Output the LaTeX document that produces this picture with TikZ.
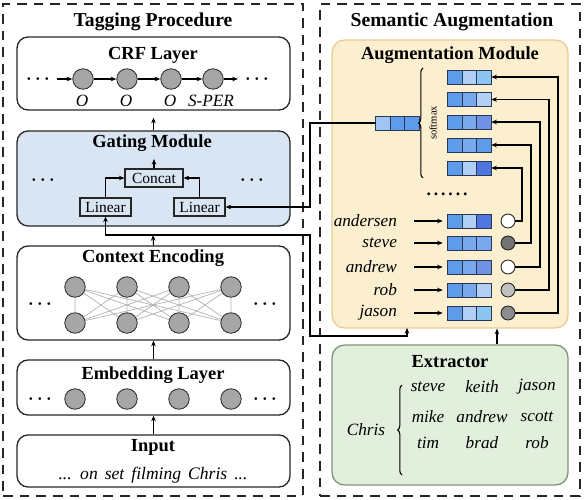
\documentclass[tikz,border=0pt]{standalone}
\usepackage{fontspec}
\setmainfont{Liberation Serif}
\usepackage{tikz}
\usetikzlibrary{arrows.meta,positioning,decorations.pathreplacing,calc}
\definecolor{gatefill}{RGB}{218,229,243}
\definecolor{augfill}{RGB}{252,239,208}
\definecolor{augline}{RGB}{233,205,148}
\definecolor{extfill}{RGB}{226,239,221}
\definecolor{extline}{RGB}{125,150,120}
\definecolor{unitgray}{RGB}{166,166,166}
\definecolor{vmid}{RGB}{94,155,232}
\definecolor{vlight}{RGB}{178,208,245}
\definecolor{vcyan}{RGB}{140,198,240}
\definecolor{vdeep}{RGB}{78,118,222}
\definecolor{vsoft}{RGB}{122,168,236}
\definecolor{vline}{RGB}{40,55,85}

% one embedding vector = three cells side by side
\newcommand{\embvec}[5]{%
  \node[cell,fill=#3] (#1a) at #2 {};
  \node[cell,fill=#4,right=0pt of #1a] (#1b) {};
  \node[cell,fill=#5,right=0pt of #1b] (#1c) {};
}

\begin{document}
\begin{tikzpicture}[x=0.02cm,y=-0.02cm,
  panel/.style={draw=black!85,line width=0.8pt,dash pattern=on 5.5pt off 4pt,inner sep=0pt},
  layer/.style={draw=black!85,line width=0.75pt,rounded corners=0.22cm,inner sep=0pt},
  ttl/.style={font=\fontsize{11.2}{13}\selectfont\bfseries},
  sub/.style={font=\fontsize{10.5}{12}\selectfont\bfseries},
  unit/.style={circle,draw=black!80,fill=unitgray,line width=0.5pt,minimum size=0.41cm,inner sep=0pt},
  tag/.style={font=\fontsize{9.8}{11}\selectfont\itshape,inner sep=1pt},
  dots/.style={font=\fontsize{10}{12}\selectfont\boldmath,inner sep=1pt},
  op/.style={draw=black!85,line width=0.6pt,font=\fontsize{8.8}{10}\selectfont,inner sep=1.5pt,minimum height=0.36cm},
  cell/.style={draw=vline,line width=0.5pt,minimum width=0.29cm,minimum height=0.28cm,inner sep=0pt,outer sep=0pt},
  knob/.style={circle,draw=black!85,line width=0.5pt,minimum size=0.28cm,inner sep=0pt},
  word/.style={font=\fontsize{9.8}{11}\selectfont\itshape,anchor=east,inner sep=1pt},
  arr/.style={-{Stealth[length=3.2pt,width=2.6pt]},line width=0.6pt},
  mesh/.style={gray!60,line width=0.4pt},
  brc/.style={decorate,decoration={brace,amplitude=2.5pt},line width=0.6pt}
]
\useasboundingbox (0,0) rectangle (585,500);

% panels
\node[panel,minimum width=6cm,minimum height=9.84cm] (left) at (153,250) {};
\node[panel,minimum width=5.2cm,minimum height=9.84cm] (right) at (450,250) {};
\node[ttl] (lt) at (153,22) {Tagging Procedure};
\node[ttl] (rt) at (452,22) {Semantic Augmentation};

% ---- tagging procedure ----
\node[layer,minimum width=5.46cm,minimum height=1.46cm] (crf) at (153.5,73.5) {};
\node[sub] (crft) at (153,55) {CRF Layer};
\node[unit] (c1) at (83,79) {};
\node[unit] (c2) at (127,79) {};
\node[unit] (c3) at (171,79) {};
\node[unit] (c4) at (213,79) {};
\node[dots] (cdl) at (38,79) {$\cdots$};
\node[dots] (cdr) at (257,79) {$\cdots$};
\draw[arr,shorten <=3pt] (cdl) -- (c1);
\draw[arr] (c1) -- (c2); \draw[arr] (c2) -- (c3);
\draw[arr] (c3) -- (c4); \draw[arr,shorten >=3pt] (c4) -- (cdr);
\node[tag] (l1) at (82,101) {O};
\node[tag] (l2) at (126,101) {O};
\node[tag] (l3) at (170,101) {O};
\node[tag] (l4) at (211,101) {S-PER};

\node[layer,fill=gatefill,minimum width=5.46cm,minimum height=1.9cm] (gate) at (153.5,178.5) {};
\node[sub] (gatet) at (152,143) {Gating Module};
\node[op,minimum width=1.16cm] (concat) at (154,178) {Concat};
\node[op,minimum width=1.02cm] (linL) at (105.5,207) {Linear};
\node[op,minimum width=1.02cm] (linR) at (199.5,207) {Linear};
\node[dots] (gdl) at (43,180) {$\cdots$};
\node[dots] (gdr) at (252,180) {$\cdots$};
\coordinate (gout) at (154,159);
\draw[arr] (concat.north) -- (gout);
\draw[arr] (linL.north) |- (concat.west);
\draw[arr] (linR.north) |- (concat.east);
\draw[arr,shorten >=4pt] (gate.north) -- (crf.south);

\node[layer,minimum width=5.46cm,minimum height=1.88cm] (ctx) at (153.5,293) {};
\node[sub] (ctxt) at (153,258) {Context Encoding};
\node[unit] (u1) at (75,287) {};
\node[unit] (u2) at (127,287) {};
\node[unit] (u3) at (179,287) {};
\node[unit] (u4) at (231,287) {};
\node[unit] (d1) at (75,323) {};
\node[unit] (d2) at (127,323) {};
\node[unit] (d3) at (179,323) {};
\node[unit] (d4) at (231,323) {};
\draw[mesh] (u1)--(d1) (u1)--(d2) (u1)--(d3) (u1)--(d4);
\draw[mesh] (u2)--(d1) (u2)--(d2) (u2)--(d3) (u2)--(d4);
\draw[mesh] (u3)--(d1) (u3)--(d2) (u3)--(d3) (u3)--(d4);
\draw[mesh] (u4)--(d1) (u4)--(d2) (u4)--(d3) (u4)--(d4);
\node[dots] (xdl) at (40,304) {$\cdots$};
\node[dots] (xdr) at (265,304) {$\cdots$};

\node[layer,minimum width=5.46cm,minimum height=1.1cm] (emb) at (153.5,387.5) {};
\node[sub] (embt) at (153,375) {Embedding Layer};
\node[unit] (e1) at (75,399) {};
\node[unit] (e2) at (127,399) {};
\node[unit] (e3) at (179,399) {};
\node[unit] (e4) at (231,399) {};
\node[dots] (edl) at (40,399) {$\cdots$};
\node[dots] (edr) at (265,399) {$\cdots$};

\node[layer,minimum width=5.46cm,minimum height=1.04cm] (inp) at (153.5,461) {};
\node[sub] (inpt) at (153,447) {Input};
\node[tag,font=\fontsize{10}{12}\selectfont\itshape] (sent) at (153,475) {\spaceskip=4pt plus 1pt\relax ... on set filming Chris ...};

\draw[arr] (inp.north) -- (emb.south);
\draw[arr] (emb.north) -- (ctx.south);

% ---- semantic augmentation ----
\node[layer,draw=augline,fill=augfill,rounded corners=0.25cm,minimum width=4.72cm,minimum height=5.76cm] (aug) at (450,184) {};
\node[sub] (augt) at (450,55) {Augmentation Module};

\embvec{t1}{(455,77)}{vmid}{vlight}{vcyan}
\embvec{t2}{(455,99.5)}{vmid}{vsoft}{vlight}
\embvec{t3}{(455,122)}{vmid}{vsoft}{vdeep!80}
\embvec{t4}{(455,145)}{vmid}{vsoft}{vmid}
\embvec{t5}{(455,168)}{vmid}{vlight}{vdeep}
\embvec{sm}{(383,123)}{vlight!80!vmid}{vmid}{vmid}
\draw[brc] (423,178) -- (423,68);
\node[font=\fontsize{6}{7}\selectfont,rotate=90] (smx) at (433,123) {softmax};
\node[dots] (mid) at (447,194) {\textbf{.\,.\,.\,.\,.\,.}};

\embvec{b1}{(455,221)}{vmid}{vlight}{vdeep}
\embvec{b2}{(455,243)}{vmid}{vsoft}{vsoft}
\embvec{b3}{(455,267)}{vmid}{vsoft}{vdeep!80}
\embvec{b4}{(455,290)}{vmid}{vsoft}{vlight}
\embvec{b5}{(455,313)}{vmid}{vlight}{vcyan}

\node[word] (w1) at (399,221) {andersen};
\node[word] (w2) at (399,243) {steve};
\node[word] (w3) at (399,267) {andrew};
\node[word] (w4) at (399,290) {rob};
\node[word] (w5) at (399,313) {jason};
\draw[arr,shorten <=0.3cm,shorten >=0.1cm] (w1.east) -- (b1a.west);
\draw[arr,shorten <=0.3cm,shorten >=0.1cm] (w2.east) -- (b2a.west);
\draw[arr,shorten <=0.3cm,shorten >=0.1cm] (w3.east) -- (b3a.west);
\draw[arr,shorten <=0.3cm,shorten >=0.1cm] (w4.east) -- (b4a.west);
\draw[arr,shorten <=0.3cm,shorten >=0.1cm] (w5.east) -- (b5a.west);

\node[knob,fill=white] (k1) at (508,221) {};
\node[knob,fill=black!55] (k2) at (508,243) {};
\node[knob,fill=white] (k3) at (508,267) {};
\node[knob,fill=black!25] (k4) at (508,290) {};
\node[knob,fill=black!45] (k5) at (508,313) {};
\draw[arr] (k1.east) -| ([xshift=0.615cm]t5c.east) -- (t5c.east);
\draw[arr] (k2.east) -| ([xshift=0.795cm]t4c.east) -- (t4c.east);
\draw[arr] (k3.east) -| ([xshift=0.975cm]t3c.east) -- (t3c.east);
\draw[arr] (k4.east) -| ([xshift=1.155cm]t2c.east) -- (t2c.east);
\draw[arr] (k5.east) -| ([xshift=1.335cm]t1c.east) -- (t1c.east);

\node[layer,draw=extline,fill=extfill,rounded corners=0.25cm,minimum width=4.72cm,minimum height=2.8cm] (ext) at (450,415) {};
\node[sub] (extt) at (450,362) {Extractor};
\node[tag] (chris) at (366,430) {Chris};
\draw[brc] (402,475) -- (402,385);
\node[tag] (x11) at (428,387) {steve};
\node[tag] (x12) at (482,387) {keith};
\node[tag] (x13) at (537,387) {jason};
\node[tag] (x21) at (428,417) {mike};
\node[tag] (x22) at (482,417) {andrew};
\node[tag] (x23) at (537,417) {scott};
\node[tag] (x31) at (428,443) {tim};
\node[tag] (x32) at (482,443) {brad};
\node[tag] (x33) at (537,443) {rob};
\draw[arr] ([xshift=0.94cm]ext.north) -- ([xshift=0.94cm]aug.south);

% ---- links between the two panels ----
\coordinate (split) at (153,235);
\coordinate (bendA) at (310,207);
\coordinate (bendB) at (310,336);
\coordinate (augin) at (407,328);
\draw[arr] (ctx.north) -- (split);
\draw[arr] (split) -| (linL.south);
\draw[arr] (split) -| (bendB) -| (augin);
\draw[arr] (sma.west) -| (bendA) -- (linR.east);
\end{tikzpicture}
\end{document}
